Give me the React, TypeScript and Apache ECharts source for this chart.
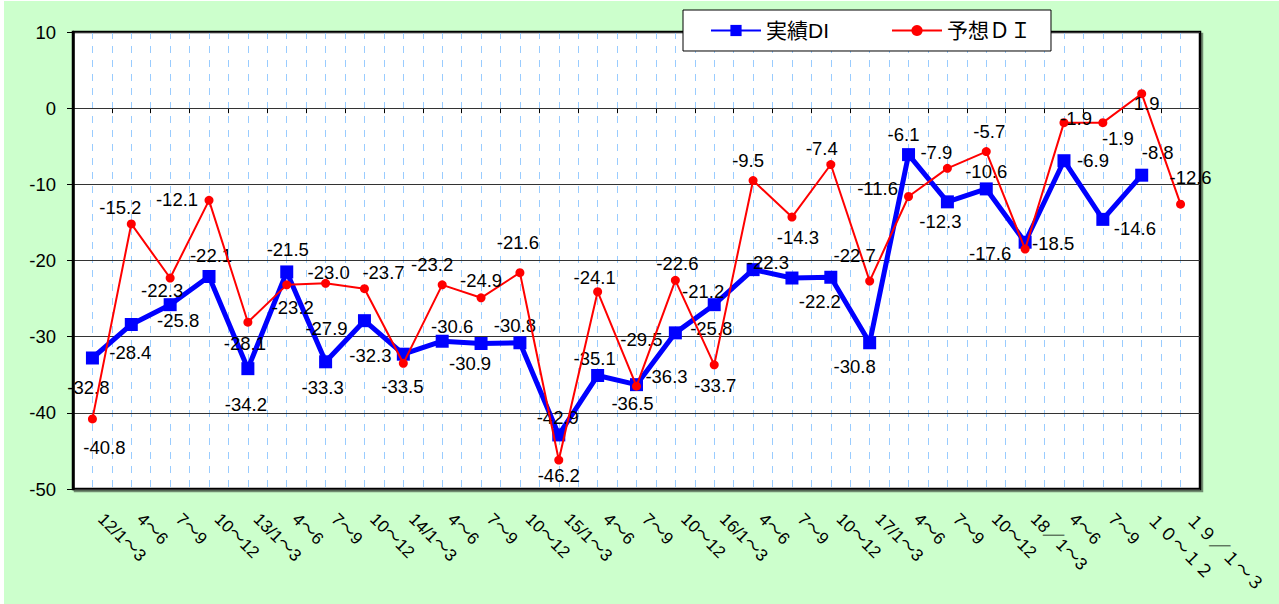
import React, { useEffect, useRef } from "react";
import * as echarts from "echarts";

// ---- data ----
const categories: string[] = [
  "12/1～3", "4～6", "7～9", "10～12",
  "13/1～3", "4～6", "7～9", "10～12",
  "14/1～3", "4～6", "7～9", "10～12",
  "15/1～3", "4～6", "7～9", "10～12",
  "16/1～3", "4～6", "7～9", "10～12",
  "17/1～3", "4～6", "7～9", "10～12",
  "18／1～3", "4～6", "7～9", "１０～１２",
  "１９／１～３",
];

const actualDI: number[] = [
  -32.8, -28.4, -25.8, -22.1,
  -34.2, -21.5, -33.3, -27.9,
  -32.3, -30.6, -30.9, -30.8,
  -42.9, -35.1, -36.3, -29.5,
  -25.8, -21.2, -22.3, -22.2,
  -30.8, -6.1, -12.3, -10.6,
  -17.6, -6.9, -14.6, -8.8,
];

const forecastDI: number[] = [
  -40.8, -15.2, -22.3, -12.1,
  -28.1, -23.2, -23.0, -23.7,
  -33.5, -23.2, -24.9, -21.6,
  -46.2, -24.1, -36.5, -22.6,
  -33.7, -9.5, -14.3, -7.4,
  -22.7, -11.6, -7.9, -5.7,
  -18.5, -1.9, -1.9, 1.9,
  -12.6,
];

const seriesNames = ["実績DI", "予想ＤＩ"];

const Y_MIN = -50;
const Y_MAX = 10;
const Y_STEP = 10;

// ---- label layout (offset of each value label from its point, px) ----
const actualLabelOffsets: [number, number][] = [
  [-4, 30], [-1, 28], [8, 16], [2, -21],
  [-2, 36], [1, -22], [-3, 26], [-38, 8],
  [-33, 1], [10, -15], [-11, 20], [-5, -17],
  [-1, -17], [-3, -17], [30, -8], [-34, 7],
  [-3, 24], [-50, 22], [-24, -16], [-11, 24],
  [-15, 24], [-5, -20], [-7, 20], [0, -17],
  [-35, 11], [29, 0], [32, 9], [16, -23],
];

const forecastLabelOffsets: [number, number][] = [
  [12, 29], [-11, -16], [-8, 12], [-32, -1],
  [-3, 21], [6, 23], [3, -11], [19, -16],
  [-1, 23], [-10, -20], [0, -17], [-2, -30],
  [0, 15], [-3, -14], [-4, 17], [2, -17],
  [1, 21], [-5, -20], [6, 20], [-9, -16],
  [-15, -26], [-31, -8], [-11, -16], [3, -20],
  [28, -6], [12, -4], [15, 16], [5, 10],
  [10, -27],
];

const FONT = "'Liberation Sans', Arial, 'Noto Sans CJK JP', sans-serif";

export default function App() {
  const ref = useRef<HTMLDivElement>(null);

  useEffect(() => {
    if (!ref.current) return;
    const chart = echarts.init(ref.current, undefined, { renderer: "svg" });

    const fmt = (p: any) => Number(p.value).toFixed(1);

    const actualData = actualDI.map((v, i) => ({
      value: v,
      label: { offset: actualLabelOffsets[i] },
    }));
    const forecastData = forecastDI.map((v, i) => ({
      value: v,
      label: { offset: forecastLabelOffsets[i] },
    }));

    const labelStyle = {
      show: true,
      position: "inside",
      color: "#000",
      fontSize: 18.5,
      fontFamily: FONT,
      formatter: fmt,
    };

    chart.setOption({
      animation: false,
      backgroundColor: "#CCFFCC",
      textStyle: { fontFamily: FONT },
      grid: {
        left: 69,
        right: 79,
        top: 31,
        bottom: 115,
        show: true,
        backgroundColor: "#FFFFFF",
        borderColor: "#000000",
        borderWidth: 2.5,
        shadowColor: "rgba(0,0,0,0.45)",
        shadowOffsetX: 2,
        shadowOffsetY: 2,
        shadowBlur: 0,
      },
      legend: {
        left: 679,
        top: 9,
        padding: [10, 20, 10, 27],
        itemGap: 62,
        itemWidth: 50,
        itemHeight: 14,
        backgroundColor: "#FFFFFF",
        borderColor: "#000000",
        borderWidth: 1,
        textStyle: { fontSize: 21, color: "#000", fontFamily: FONT },
        data: seriesNames,
        z: 20,
      },
      xAxis: [
        {
          type: "category",
          data: categories,
          boundaryGap: true,
          position: "bottom",
          axisLine: { show: false, onZero: false },
          axisTick: { show: false },
          splitLine: { show: false },
          axisLabel: {
            interval: 0,
            rotate: -45,
            margin: 19,
            padding: [0, 0, 0, 12],
            fontSize: 17,
            color: "#000",
            fontFamily: FONT,
          },
        },
        {
          type: "category",
          data: categories,
          boundaryGap: true,
          position: "bottom",
          axisLine: { show: true, onZero: true, lineStyle: { color: "#333", width: 1 } },
          axisTick: { show: true, interval: 0, length: 5, lineStyle: { color: "#000", width: 1 } },
          axisLabel: { show: false },
          splitLine: { show: false },
        },
        {
          type: "value",
          min: 0,
          max: categories.length * 2,
          interval: 1,
          position: "top",
          axisLine: { show: false, onZero: false },
          axisTick: { show: false },
          axisLabel: { show: false },
          splitLine: {
            show: true,
            showMinLine: false,
            showMaxLine: false,
            lineStyle: { color: "#99CCFF", width: 1, type: [7, 7] },
          },
        },
      ],
      yAxis: {
        type: "value",
        min: Y_MIN,
        max: Y_MAX,
        interval: Y_STEP,
        axisLine: { show: true, onZero: false, lineStyle: { color: "#000", width: 2.5 } },
        axisTick: { show: true, length: 6, lineStyle: { color: "#000", width: 1 } },
        axisLabel: { fontSize: 18.5, color: "#000", margin: 17, fontFamily: FONT },
        splitLine: { show: true, lineStyle: { color: "#333", width: 1 } },
        z: 3,
      },
      series: [
        {
          name: seriesNames[0],
          type: "line",
          xAxisIndex: 0,
          yAxisIndex: 0,
          data: actualData,
          symbol: "rect",
          symbolSize: 13,
          color: "#0000FF",
          lineStyle: { color: "#0000FF", width: 5 },
          itemStyle: { color: "#0000FF" },
          label: labelStyle,
          z: 3,
        },
        {
          name: seriesNames[1],
          type: "line",
          xAxisIndex: 0,
          yAxisIndex: 0,
          data: forecastData,
          symbol: "circle",
          symbolSize: 9,
          color: "#FF0000",
          lineStyle: { color: "#FF0000", width: 2 },
          itemStyle: { color: "#FF0000" },
          label: labelStyle,
          z: 4,
        },
      ],
    });

    return () => chart.dispose();
  }, []);

  return (
    <div
      style={{ position: "absolute", left: 0, top: 0, width: 1279, height: 604, background: "#FFFFFF" }}
    >
      <div
        ref={ref}
        style={{ position: "absolute", left: 4, top: 1, width: 1275, height: 603 }}
      />
    </div>
  );
}
